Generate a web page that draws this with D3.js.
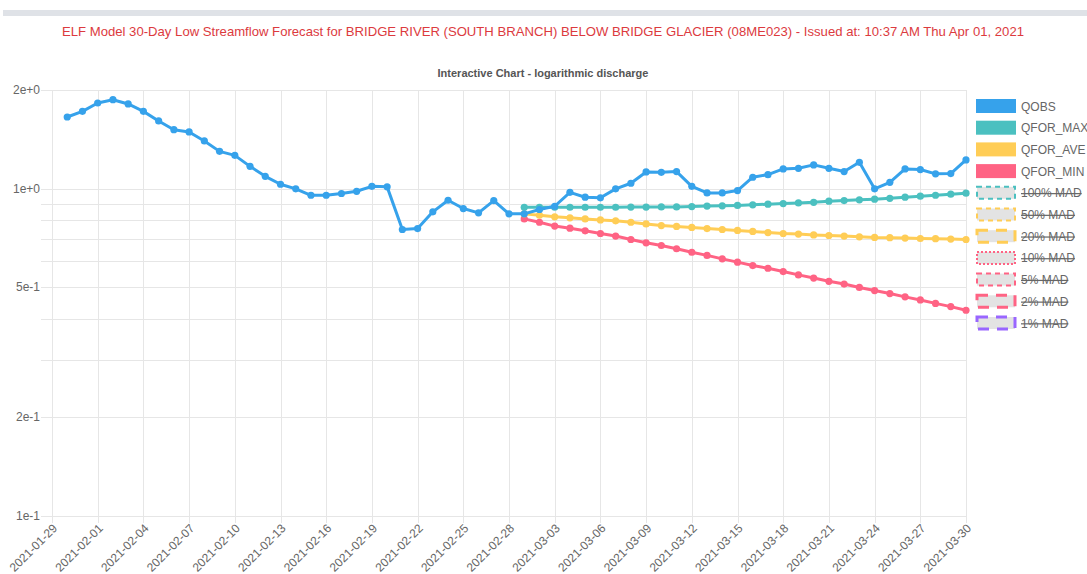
<!DOCTYPE html>
<html>
<head>
<meta charset="utf-8">
<script src="https://cdn.jsdelivr.net/npm/d3@7"></script>
<style>
  html, body { margin: 0; padding: 0; background: #fff; }
  svg { display: block; font-family: "Liberation Sans", Arial, Helvetica, sans-serif; }
</style>
</head>
<body>
<svg id="chart" width="1087" height="574"></svg>
<script>
// ---- data -------------------------------------------------------------
const pageTitle = "ELF Model 30-Day Low Streamflow Forecast for BRIDGE RIVER (SOUTH BRANCH) BELOW BRIDGE GLACIER (08ME023) - Issued at: 10:37 AM Thu Apr 01, 2021";
const chartTitle = "Interactive Chart - logarithmic discharge";

const axisStart = "2021-01-29";
const axisEnd = "2021-03-30";
const obsStart = "2021-01-30";
const forecastStart = "2021-03-01";

// observed daily discharge, 2021-01-30 .. 2021-03-30
const qobs = [
  1.654, 1.721, 1.825, 1.868, 1.813, 1.721, 1.609, 1.513, 1.489, 1.398,
  1.299, 1.263, 1.169, 1.090, 1.031, 0.998, 0.954, 0.954, 0.966, 0.981,
  1.016, 1.012, 0.750, 0.755, 0.849, 0.921, 0.869, 0.843, 0.919, 0.837,
  0.837, 0.863, 0.883, 0.974, 0.941, 0.937, 0.998, 1.038, 1.124, 1.121,
  1.127, 1.016, 0.970, 0.970, 0.986, 1.083, 1.103, 1.148, 1.153, 1.181,
  1.153, 1.127, 1.203, 0.998, 1.045, 1.148, 1.143, 1.109, 1.111, 1.223
];

// forecasts, 2021-03-01 .. 2021-03-30
const qforMax = [
  0.877, 0.877, 0.877, 0.877, 0.877, 0.877, 0.877, 0.878, 0.878, 0.879,
  0.879, 0.881, 0.884, 0.886, 0.888, 0.892, 0.896, 0.900, 0.904, 0.908,
  0.915, 0.919, 0.924, 0.928, 0.934, 0.941, 0.948, 0.954, 0.961, 0.968
];
const qforAve = [
  0.837, 0.829, 0.820, 0.814, 0.808, 0.802, 0.797, 0.789, 0.780, 0.771,
  0.766, 0.761, 0.755, 0.750, 0.745, 0.740, 0.734, 0.729, 0.726, 0.722,
  0.719, 0.716, 0.712, 0.709, 0.708, 0.706, 0.704, 0.703, 0.701, 0.699
];
const qforMin = [
  0.808, 0.789, 0.768, 0.757, 0.743, 0.729, 0.716, 0.699, 0.683, 0.670,
  0.655, 0.639, 0.625, 0.610, 0.596, 0.582, 0.571, 0.558, 0.545, 0.533,
  0.521, 0.511, 0.499, 0.488, 0.478, 0.467, 0.457, 0.446, 0.436, 0.425
];

const yLabelTicks = [0.1, 0.2, 0.5, 1, 2];
const yGridTicks = [0.1, 0.2, 0.3, 0.4, 0.5, 0.6, 0.7, 0.8, 0.9, 1, 2];

const seriesNames = ["QOBS", "QFOR_MAX", "QFOR_AVE", "QFOR_MIN"];
const seriesColors = ["#36a2eb", "#4bc0c0", "#ffcd56", "#ff6384"];

const madNames = ["100% MAD", "50% MAD", "20% MAD", "10% MAD", "5% MAD", "2% MAD", "1% MAD"];
const madColors = ["#4bc0c0", "#ffcd56", "#ffcd56", "#ff6384", "#ff6384", "#ff6384", "#9966ff"];
const madDashes = ["5,4", "5,4", "11,8", "2,2", "5,4", "11,8", "11,8"];

// ---- setup ------------------------------------------------------------
const parse = d3.utcParse("%Y-%m-%d");
const fmt = d3.utcFormat("%Y-%m-%d");
const svg = d3.select("#chart");

const plot = { left: 52, right: 966, top: 90, bottom: 516 };

const dayList = d3.utcDay.range(parse(axisStart), d3.utcDay.offset(parse(axisEnd), 1));
const tickDays = dayList.filter((d, i) => i % 3 === 0);

const x = d3.scaleUtc().domain([parse(axisStart), parse(axisEnd)]).range([plot.left, plot.right]);
const y = d3.scaleLog().domain([0.1, 2]).range([plot.bottom, plot.top]);

const seriesFrom = (start, vals) => vals.map((v, i) => ({ date: d3.utcDay.offset(parse(start), i), value: v }));
const series = [
  seriesFrom(obsStart, qobs),
  seriesFrom(forecastStart, qforMax),
  seriesFrom(forecastStart, qforAve),
  seriesFrom(forecastStart, qforMin)
];

// ---- header -----------------------------------------------------------
svg.append("rect").attr("x", 3).attr("y", 10).attr("width", 1084).attr("height", 6).attr("fill", "#dfe2e7");
svg.append("text")
  .attr("x", 543).attr("y", 36)
  .attr("text-anchor", "middle")
  .attr("font-size", 13)
  .attr("fill", "#dc3a3e")
  .attr("textLength", 962)
  .attr("lengthAdjust", "spacingAndGlyphs")
  .text(pageTitle);

svg.append("text")
  .attr("x", 543).attr("y", 77)
  .attr("text-anchor", "middle")
  .attr("font-size", 11)
  .attr("font-weight", "bold")
  .attr("fill", "#555")
  .text(chartTitle);

// ---- grid -------------------------------------------------------------
const grid = svg.append("g");
grid.selectAll("line.h").data(yGridTicks).join("line")
  .attr("x1", plot.left - 11).attr("x2", plot.right)
  .attr("y1", d => Math.round(y(d)) + 0.5).attr("y2", d => Math.round(y(d)) + 0.5)
  .attr("stroke", "#e6e6e6").attr("stroke-width", 1);
grid.selectAll("line.v").data(tickDays).join("line")
  .attr("x1", d => Math.round(x(d)) + 0.5).attr("x2", d => Math.round(x(d)) + 0.5)
  .attr("y1", plot.top).attr("y2", plot.bottom + 7)
  .attr("stroke", "#e6e6e6").attr("stroke-width", 1);

// ---- axes labels --------------------------------------------------------
svg.append("g").selectAll("text").data(yLabelTicks).join("text")
  .attr("x", plot.left - 12).attr("y", d => y(d) + 4)
  .attr("text-anchor", "end")
  .attr("font-size", 12)
  .attr("fill", "#666")
  .text(d => d3.format(".0e")(d));

svg.append("g").selectAll("text").data(tickDays).join("text")
  .attr("transform", d => `translate(${x(d) + 6},${plot.bottom + 13}) rotate(-45)`)
  .attr("text-anchor", "end")
  .attr("font-size", 12)
  .attr("fill", "#666")
  .text(d => fmt(d));

// ---- series -----------------------------------------------------------
const line = d3.line().x(d => x(d.date)).y(d => y(d.value));
const order = [3, 2, 1, 0];
order.forEach(k => {
  const g = svg.append("g");
  g.append("path").datum(series[k])
    .attr("d", line)
    .attr("fill", "none")
    .attr("stroke", seriesColors[k])
    .attr("stroke-width", 3)
    .attr("stroke-linejoin", "round");
  g.selectAll("circle").data(series[k]).join("circle")
    .attr("cx", d => x(d.date)).attr("cy", d => y(d.value))
    .attr("r", 3.6)
    .attr("fill", seriesColors[k]);
});

// ---- legend -----------------------------------------------------------
const legend = svg.append("g").attr("transform", "translate(976,99)");
const rowH = 21.7;
seriesNames.forEach((name, i) => {
  const r = legend.append("g").attr("transform", `translate(0,${i * rowH})`);
  r.append("rect").attr("width", 40).attr("height", 14).attr("fill", seriesColors[i]);
  r.append("text").attr("x", 45).attr("y", 11.5).attr("font-size", 12).attr("fill", "#666").text(name);
});
madNames.forEach((name, j) => {
  const i = j + seriesNames.length;
  const r = legend.append("g").attr("transform", `translate(0,${i * rowH})`);
  r.append("rect").attr("x", 1).attr("y", 1).attr("width", 38).attr("height", 12)
    .attr("fill", "#e3e3e3")
    .attr("stroke", madColors[j])
    .attr("stroke-width", (madDashes[j] === "11,8") ? 3 : 2)
    .attr("stroke-dasharray", madDashes[j]);
  r.append("text").attr("x", 45).attr("y", 11.5).attr("font-size", 12).attr("fill", "#666")
    .attr("text-decoration", "line-through").text(name);
});
</script>
</body>
</html>
